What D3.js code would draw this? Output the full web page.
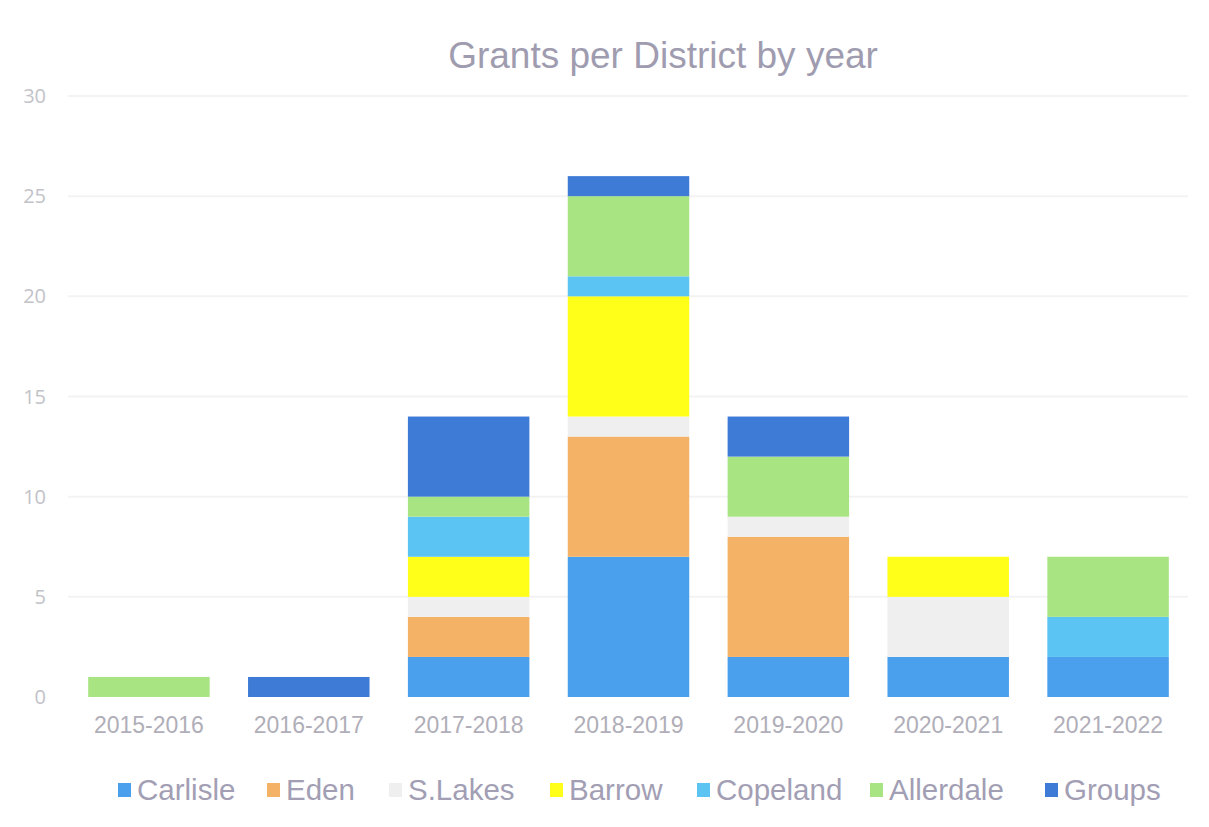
<!DOCTYPE html>
<html>
<head>
<meta charset="utf-8">
<script src="https://cdn.jsdelivr.net/npm/d3@7"></script>
<style>
  body { margin: 0; background: #fff; }
</style>
</head>
<body>
<svg id="chart" width="1209" height="827"></svg>
<script>
// data
var years = ["2015-2016","2016-2017","2017-2018","2018-2019","2019-2020","2020-2021","2021-2022"];
var districts = ["Carlisle","Eden","S.Lakes","Barrow","Copeland","Allerdale","Groups"];
var carlisle  = [0, 0, 2, 7, 2, 2, 2];
var eden      = [0, 0, 2, 6, 6, 0, 0];
var slakes    = [0, 0, 1, 1, 1, 3, 0];
var barrow    = [0, 0, 2, 6, 0, 2, 0];
var copeland  = [0, 0, 2, 1, 0, 0, 2];
var allerdale = [1, 0, 1, 4, 3, 0, 3];
var groups    = [0, 1, 4, 1, 2, 0, 0];
var yTicks = [0, 5, 10, 15, 20, 25, 30];
var colours = ["#4aa0ec","#f4b266","#efefef","#ffff1a","#5cc4f2","#a8e482","#3d7bd6"];

var series = [carlisle, eden, slakes, barrow, copeland, allerdale, groups];
var rows = years.map(function(y, i) {
  var r = { year: y };
  districts.forEach(function(d, j) { r[d] = series[j][i]; });
  return r;
});

var svg = d3.select("#chart");
var x = d3.scaleBand().domain(years).range([69, 1188]).paddingInner(0.24).paddingOuter(0.12);
var y = d3.scaleLinear().domain([0, 30]).range([697, 96]);
var color = d3.scaleOrdinal().domain(districts).range(colours);

// gridlines
svg.append("g").selectAll("line")
  .data(yTicks.slice(1))
  .enter().append("line")
  .attr("x1", 68).attr("x2", 1188)
  .attr("y1", function(d) { return y(d); })
  .attr("y2", function(d) { return y(d); })
  .attr("stroke", "#f3f3f3")
  .attr("stroke-width", 2);

// y tick labels
svg.append("g").selectAll("text")
  .data(yTicks)
  .enter().append("text")
  .attr("x", 46)
  .attr("y", function(d) { return y(d); })
  .attr("dy", "0.35em")
  .attr("text-anchor", "end")
  .attr("font-family", "Open Sans, sans-serif")
  .attr("font-size", 20)
  .attr("fill", "#c2c2c8")
  .text(function(d) { return d; });

// stacked bars
var stack = d3.stack().keys(districts)(rows);
svg.append("g").selectAll("g")
  .data(stack)
  .enter().append("g")
  .attr("fill", function(d) { return color(d.key); })
  .selectAll("rect")
  .data(function(d) { return d; })
  .enter().append("rect")
  .attr("x", function(d) { return x(d.data.year); })
  .attr("width", x.bandwidth())
  .attr("y", function(d) { return y(d[1]); })
  .attr("height", function(d) { return y(d[0]) - y(d[1]); });

// x axis labels
svg.append("g").selectAll("text")
  .data(years)
  .enter().append("text")
  .attr("x", function(d) { return x(d) + x.bandwidth() / 2; })
  .attr("y", 733)
  .attr("text-anchor", "middle")
  .attr("font-family", "Liberation Sans, Arial, sans-serif")
  .attr("font-size", 23)
  .attr("fill", "#b0aeb8")
  .text(function(d) { return d; });

// title
svg.append("text")
  .attr("x", 663)
  .attr("y", 68)
  .attr("text-anchor", "middle")
  .attr("font-family", "Liberation Sans, Arial, sans-serif")
  .attr("font-size", 37)
  .attr("fill", "#a09cb0")
  .text("Grants per District by year");

// legend
var legendX = [118, 267, 389, 550, 697, 870, 1045];
var lg = svg.append("g").selectAll("g")
  .data(districts)
  .enter().append("g")
  .attr("transform", function(d, i) { return "translate(" + legendX[i] + ",790)"; });
lg.append("rect")
  .attr("x", 0).attr("y", -7)
  .attr("width", 13).attr("height", 14)
  .attr("fill", function(d) { return color(d); });
lg.append("text")
  .attr("x", 19)
  .attr("y", 10)
  .attr("font-family", "Liberation Sans, Arial, sans-serif")
  .attr("font-size", 29.5)
  .attr("fill", "#a29eb4")
  .text(function(d) { return d; });
</script>
</body>
</html>
